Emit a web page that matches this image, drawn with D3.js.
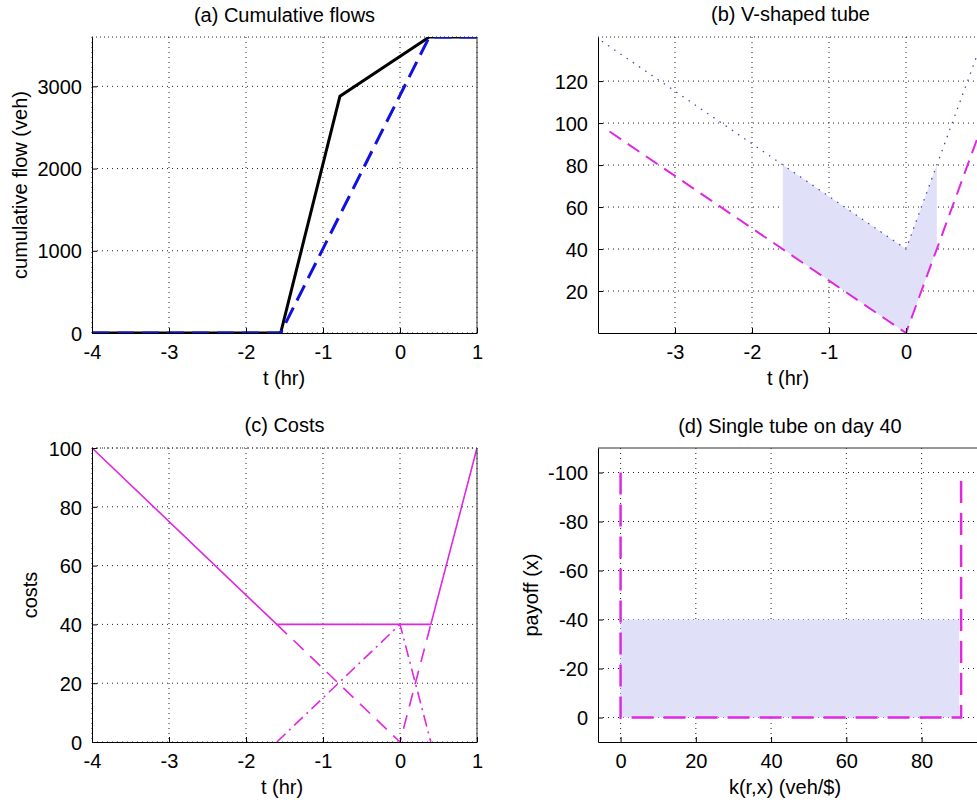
<!doctype html>
<html>
<head>
<meta charset="utf-8">
<style>
    body { margin: 0; background: #fff; }
    svg text { font-family: "Liberation Sans", Arial, sans-serif; fill: #000; }
    .grid line { stroke: #222; stroke-width: 1; stroke-dasharray: 1,4; }
</style>
<script src="https://cdn.jsdelivr.net/npm/d3@7"></script>
</head>
<body>
<svg id="fig" width="977" height="802"></svg>
<script>
// (a) cumulative flows
var tArr = [-4, -1.55, -0.78, 0.38, 1];
var cumArr = [0, 0, 2880, 3600, 3600];
var tDep = [-4, -1.55, 0.38, 1];
var cumDep = [0, 0, 3600, 3600];

// (b) V-shaped tube
var tLow = [-3.85, 0, 1];
var lowVals = [96, 0, 100];
var tHigh = [-3.95, 0, 1];
var highVals = [139, 40, 140];
var tShade = [-1.6, 0, 0.4];
var shadeLow = [40, 0, 40];
var shadeHigh = [80, 40, 80];

// (c) costs
var tTotal = [-4, -1.6, 0.4, 1];
var totalCost = [100, 40, 40, 100];
var tSched = [-1.6, 0, 0.4];
var schedCost = [40, 0, 40];
var tTravel = [-1.6, 0, 0.4];
var travelCost = [0, 40, 0];

// (d) single tube
var kEdge = [0, 0, 90.5, 90.5];
var payEdge = [-100, 0, 0, -100];
var kTube = [0, 90];
var payTube = [0, -40];

var svg = d3.select("#fig");
var fs = 20;
var fmt = function(d) { return String(d); };   // plain hyphen minus, no thousands comma

function panel(o) {
    var g = svg.append("g");
    var x = d3.scaleLinear().domain(o.xd).range(o.xr);
    var y = d3.scaleLinear().domain(o.yd).range(o.yr);
    var x0 = o.xr[0], x1 = Math.min(o.xr[1], 977), y0 = o.yr[1], y1 = o.yr[0];

    var clipId = "clip" + o.id;
    svg.append("clipPath").attr("id", clipId)
        .append("rect").attr("x", x0).attr("y", y0).attr("width", o.xr[1] - x0).attr("height", y1 - y0);

    // grid
    var grid = g.append("g").attr("class", "grid");
    grid.selectAll(".vx").data(o.xt).enter().append("line")
        .attr("x1", function(d) { return x(d); }).attr("x2", function(d) { return x(d); })
        .attr("y1", y0).attr("y2", y1);
    grid.selectAll(".hy").data(o.yt).enter().append("line")
        .attr("y1", function(d) { return y(d); }).attr("y2", function(d) { return y(d); })
        .attr("x1", x0).attr("x2", x1);

    var plot = g.append("g").attr("clip-path", "url(#" + clipId + ")");

    // border
    g.append("line").attr("x1", x0).attr("x2", x1).attr("y1", y0).attr("y2", y0)
        .attr("stroke", o.topSolid ? "#333" : "#222").attr("stroke-dasharray", o.topSolid ? null : "1,3");
    if (o.xr[1] <= 977)
        g.append("line").attr("x1", o.xr[1]).attr("x2", o.xr[1]).attr("y1", y0).attr("y2", y1).attr("stroke", "#333");

    var xa = g.append("g").attr("transform", "translate(0," + y1 + ")")
        .call(d3.axisBottom(x).tickValues(o.xt).tickFormat(fmt).tickSizeInner(-5).tickSizeOuter(0).tickPadding(12));
    var ya = g.append("g").attr("transform", "translate(" + x0 + ",0)")
        .call(d3.axisLeft(y).tickValues(o.yt).tickFormat(fmt).tickSizeInner(-5).tickSizeOuter(0).tickPadding(10));
    [xa, ya].forEach(function(a) {
        a.select(".domain").attr("stroke", "#000");
        a.selectAll("text").style("font-size", fs + "px").style("font-family", "Liberation Sans, Arial, sans-serif");
        a.selectAll(".tick line").attr("stroke", "#000");
    });
    ya.selectAll("text").attr("dy", "0.36em");

    g.append("text").attr("x", (x0 + o.xr[1]) / 2).attr("y", o.titleY)
        .attr("text-anchor", "middle").style("font-size", fs + "px").text(o.title);
    g.append("text").attr("x", o.xlx).attr("y", y1 + 52)
        .attr("text-anchor", "middle").style("font-size", fs + "px").text(o.xlabel);
    if (o.ylabel)
        g.append("text").attr("transform", "translate(" + o.ylx + "," + ((y0 + y1) / 2) + ") rotate(-90)")
            .attr("text-anchor", "middle").style("font-size", fs + "px").text(o.ylabel);

    return { x: x, y: y, plot: plot };
}

function lineOf(p, xs, ys) {
    return d3.line().x(function(d) { return p.x(d[0]); }).y(function(d) { return p.y(d[1]); })(d3.zip(xs, ys));
}

// (a)
var pa = panel({ id: "a", xd: [-4, 1], xr: [92, 477], yd: [0, 3600], yr: [333, 37],
    xt: [-4, -3, -2, -1, 0, 1], yt: [0, 1000, 2000, 3000],
    title: "(a) Cumulative flows", titleY: 22, xlabel: "t (hr)", xlx: 284,
    ylabel: "cumulative flow (veh)", ylx: 27 });
pa.plot.append("path").attr("d", lineOf(pa, tArr, cumArr))
    .attr("fill", "none").attr("stroke", "#000").attr("stroke-width", 3);
pa.plot.append("path").attr("d", lineOf(pa, tDep, cumDep))
    .attr("fill", "none").attr("stroke", "#1010e0").attr("stroke-width", 3).attr("stroke-dasharray", "17,8");

// (b)
var pb = panel({ id: "b", xd: [-4, 1], xr: [598, 983], yd: [0, 141], yr: [333, 37],
    xt: [-3, -2, -1, 0], yt: [20, 40, 60, 80, 100, 120],
    title: "(b) V-shaped tube", titleY: 21, xlabel: "t (hr)", xlx: 788 });
var area = d3.area().x(function(d) { return pb.x(d[0]); })
    .y0(function(d) { return pb.y(d[1]); }).y1(function(d) { return pb.y(d[2]); });
pb.plot.append("path").attr("d", area(d3.zip(tShade, shadeLow, shadeHigh)))
    .attr("fill", "#e0e0f8");
pb.plot.append("path").attr("d", lineOf(pb, tHigh, highVals))
    .attr("fill", "none").attr("stroke", "#4040b0").attr("stroke-width", 1.2).attr("stroke-dasharray", "1.5,6");
pb.plot.append("path").attr("d", lineOf(pb, tLow, lowVals))
    .attr("fill", "none").attr("stroke", "#e028e0").attr("stroke-width", 2).attr("stroke-dasharray", "14,8");

// (c)
var pc = panel({ id: "c", xd: [-4, 1], xr: [92, 477], yd: [0, 100], yr: [742, 448],
    xt: [-4, -3, -2, -1, 0, 1], yt: [0, 20, 40, 60, 80, 100],
    title: "(c) Costs", titleY: 432, xlabel: "t (hr)", xlx: 282,
    ylabel: "costs", ylx: 37 });
pc.plot.append("path").attr("d", lineOf(pc, tTotal, totalCost))
    .attr("fill", "none").attr("stroke", "#e028e0").attr("stroke-width", 1.6);
pc.plot.append("path").attr("d", lineOf(pc, tSched, schedCost))
    .attr("fill", "none").attr("stroke", "#e028e0").attr("stroke-width", 1.6).attr("stroke-dasharray", "14,9");
pc.plot.append("path").attr("d", lineOf(pc, tTravel, travelCost))
    .attr("fill", "none").attr("stroke", "#e028e0").attr("stroke-width", 1.6).attr("stroke-dasharray", "12,5,2,5");

// (d)
var pd = panel({ id: "d", xd: [-6, 96], xr: [598, 981.8], yd: [10, -110], yr: [742, 448],
    xt: [0, 20, 40, 60, 80], yt: [0, -20, -40, -60, -80, -100],
    title: "(d) Single tube on day 40", titleY: 433, xlabel: "k(r,x) (veh/$)", xlx: 785,
    ylabel: "payoff (x)", ylx: 538, topSolid: true });
pd.plot.append("rect")
    .attr("x", pd.x(kTube[0])).attr("y", pd.y(payTube[1]))
    .attr("width", pd.x(kTube[1]) - pd.x(kTube[0])).attr("height", pd.y(payTube[0]) - pd.y(payTube[1]))
    .attr("fill", "#e0e0f8");
pd.plot.append("path").attr("d", lineOf(pd, kEdge, payEdge))
    .attr("fill", "none").attr("stroke", "#e028e0").attr("stroke-width", 2.5).attr("stroke-dasharray", "22,10");
</script>
</body>
</html>
